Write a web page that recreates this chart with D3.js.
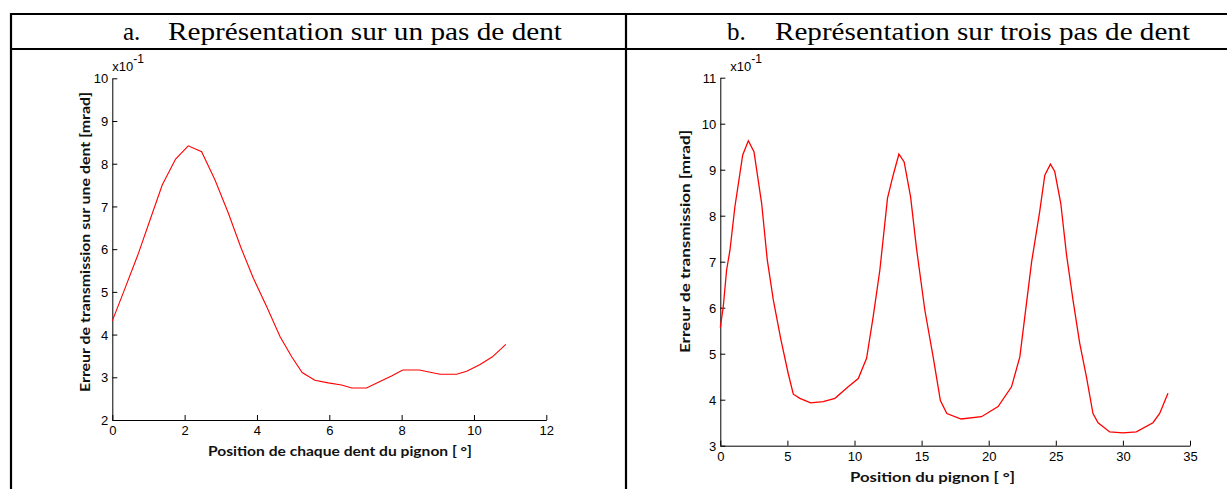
<!DOCTYPE html>
<html><head><meta charset="utf-8">
<script src="https://cdn.jsdelivr.net/npm/d3@7"></script>
<style>body{margin:0;background:#fff}svg{display:block}</style>
</head><body>
<script>
// ---- data ----
const titleA = ["a.", "Représentation sur un pas de dent"];
const titleB = ["b.", "Représentation sur trois pas de dent"];
const xLabelA = "Position de chaque dent du pignon [ °]";
const yLabelA = "Erreur de transmission sur une dent [mrad]";
const xLabelB = "Position du pignon [ °]";
const yLabelB = "Erreur de transmission [mrad]";
const xTicksA = [0, 2, 4, 6, 8, 10, 12];
const yTicksA = [2, 3, 4, 5, 6, 7, 8, 9, 10];
const xTicksB = [0, 5, 10, 15, 20, 25, 30, 35];
const yTicksB = [3, 4, 5, 6, 7, 8, 9, 10, 11];
const posA = [0, 0.30, 0.70, 1.05, 1.38, 1.75, 2.10, 2.47, 2.84, 3.21, 3.55, 3.90, 4.27, 4.64, 4.96, 5.25, 5.60, 5.97, 6.34, 6.62, 7.03, 7.40, 7.72, 8.03, 8.49, 9.06, 9.52, 9.80, 10.17, 10.51, 10.88];
const errA = [4.32, 4.97, 5.85, 6.70, 7.50, 8.11, 8.42, 8.28, 7.62, 6.84, 6.05, 5.32, 4.65, 3.95, 3.48, 3.11, 2.93, 2.87, 2.82, 2.75, 2.75, 2.90, 3.03, 3.17, 3.17, 3.07, 3.07, 3.14, 3.30, 3.48, 3.77];
const posB = [0, 0.22, 0.47, 0.72, 1.09, 1.67, 2.09, 2.51, 3.08, 3.50, 3.95, 4.50, 5.06, 5.44, 5.93, 6.73, 7.67, 8.54, 9.53, 10.28, 10.90, 11.39, 11.89, 12.46, 12.88, 13.31, 13.70, 14.18, 14.62, 15.24, 15.86, 16.40, 16.88, 17.95, 19.46, 20.70, 21.70, 22.32, 22.69, 23.20, 23.80, 24.18, 24.60, 24.92, 25.37, 25.80, 26.28, 26.78, 27.28, 27.77, 28.15, 29.02, 30.01, 31.00, 32.24, 32.74, 33.36];
const errB = [5.57, 6.02, 6.82, 7.25, 8.20, 9.32, 9.63, 9.39, 8.27, 7.04, 6.17, 5.33, 4.57, 4.12, 4.03, 3.93, 3.96, 4.03, 4.28, 4.46, 4.90, 5.80, 6.82, 8.38, 8.88, 9.34, 9.17, 8.41, 7.29, 5.95, 4.93, 3.98, 3.70, 3.58, 3.63, 3.85, 4.28, 4.93, 5.80, 7.00, 8.09, 8.88, 9.12, 8.96, 8.27, 7.15, 6.17, 5.23, 4.50, 3.70, 3.50, 3.30, 3.28, 3.30, 3.50, 3.70, 4.14];
const exponent = "-1";

const W = 1227, H = 489;
const svg = d3.select("body").append("svg").attr("width", W).attr("height", H);

// ---- table ----
const tbl = svg.append("g").attr("stroke", "#000").attr("stroke-width", 2.2);
tbl.append("line").attr("x1", 10).attr("x2", W).attr("y1", 14).attr("y2", 14);
tbl.append("line").attr("x1", 10).attr("x2", W).attr("y1", 49).attr("y2", 49);
tbl.append("line").attr("x1", 11).attr("x2", 11).attr("y1", 13).attr("y2", H);
tbl.append("line").attr("x1", 626).attr("x2", 626).attr("y1", 13).attr("y2", H);

function title(t, xa, xb, xe) {
  const g = svg.append("g").attr("font-family", "'Liberation Serif','Times New Roman',serif")
    .attr("font-size", 25).attr("fill", "#000");
  g.append("text").attr("x", xa).attr("y", 40).text(t[0]);
  g.append("text").attr("x", xb).attr("y", 40).attr("textLength", xe - xb)
    .attr("lengthAdjust", "spacingAndGlyphs").text(t[1]);
}
title(titleA, 123, 168, 562);
title(titleB, 727, 775, 1190);

function chart(cfg) {
  const x = d3.scaleLinear().domain(cfg.xd).range(cfg.xr);
  const y = d3.scaleLinear().domain(cfg.yd).range(cfg.yr);
  const g = svg.append("g");
  const fnt = "'Liberation Sans',Arial,sans-serif";
  const xa = g.append("g").attr("transform", `translate(0,${cfg.yr[0]})`)
    .call(d3.axisBottom(x).tickValues(cfg.xt).tickSizeInner(-5).tickSizeOuter(0).tickPadding(6).tickFormat(d3.format("d")));
  const ya = g.append("g").attr("transform", `translate(${cfg.xr[0]},0)`)
    .call(d3.axisLeft(y).tickValues(cfg.yt).tickSizeInner(-5).tickSizeOuter(0).tickPadding(4).tickFormat(d3.format("d")));
  [xa, ya].forEach(a => {
    a.attr("font-family", fnt).attr("font-size", 13);
    a.selectAll("text").attr("fill", "#000");
    a.selectAll("line,path").attr("stroke", "#000").attr("stroke-width", 1);
  });
  ya.selectAll("text").attr("dy", "0.36em");
  // exponent
  const ex = g.append("text").attr("font-family", fnt).attr("font-size", 13).attr("fill", "#000")
    .attr("x", cfg.xr[0] + cfg.exDx).attr("y", cfg.yr[1] - 7);
  ex.append("tspan").text("x10");
  ex.append("tspan").attr("dy", -8).attr("font-size", 12).text(exponent);
  // line
  const pts = cfg.px.map((d, i) => [d, cfg.py[i]]);
  g.append("path").datum(pts).attr("fill", "none").attr("stroke", "#ff0000").attr("stroke-width", cfg.lw)
    .attr("d", d3.line().x(d => x(d[0])).y(d => y(d[1])));
  // labels
  const lf = "Lato,'Open Sans',sans-serif";
  g.append("text").attr("font-family", lf).attr("font-weight", "bold").attr("font-size", 13.5).attr("fill", "#111")
    .attr("x", cfg.xl[0]).attr("y", cfg.xl[1]).attr("textLength", cfg.xl[2]).attr("lengthAdjust", "spacingAndGlyphs")
    .text(cfg.xlab);
  g.append("text").attr("font-family", lf).attr("font-weight", "bold").attr("font-size", 13.5).attr("fill", "#111")
    .attr("transform", `translate(${cfg.yl[0]},${cfg.yl[1]}) rotate(-90)`)
    .attr("textLength", cfg.yl[2]).attr("lengthAdjust", "spacingAndGlyphs")
    .text(cfg.ylab);
}

chart({xd: [0, 12], xr: [112.3, 546.3], yd: [2, 10], yr: [420, 78.3], xt: xTicksA, yt: yTicksA,
  px: posA, py: errA, lw: 1.1, exDx: 0, xlab: xLabelA, ylab: yLabelA,
  xl: [208, 456, 264], yl: [90, 392, 300]});
chart({xd: [0, 35], xr: [720.3, 1190], yd: [3, 11], yr: [445.7, 77.7], xt: xTicksB, yt: yTicksB,
  px: posB, py: errB, lw: 1.3, exDx: 10, xlab: xLabelB, ylab: yLabelB,
  xl: [850, 482, 165], yl: [690, 353, 223]});
</script>
</body></html>
